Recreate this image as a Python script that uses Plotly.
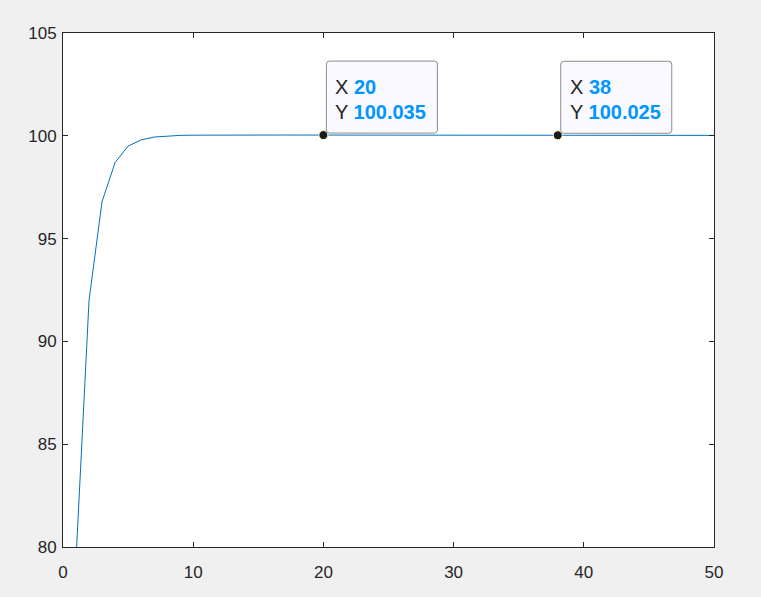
import plotly.graph_objects as go

x_vals = list(range(1, 51))
y_vals = [79.4, 92.0, 96.8, 98.7, 99.5, 99.8, 99.94, 99.99, 100.02, 100.03,
          100.036, 100.038, 100.039, 100.039, 100.039, 100.038, 100.038, 100.037, 100.036, 100.035,
          100.0344, 100.0339, 100.0333, 100.0328, 100.0322, 100.0317, 100.0311, 100.0306, 100.030, 100.0294,
          100.0289, 100.0283, 100.0278, 100.0272, 100.0267, 100.0261, 100.0256, 100.025, 100.0245, 100.024,
          100.0235, 100.023, 100.0226, 100.0222, 100.0218, 100.0214, 100.021, 100.0206, 100.0202, 100.0198]

tip_x = [20, 38]
tip_y = [100.035, 100.025]
tip_labels = ["100.035", "100.025"]

x_ticks = [0, 10, 20, 30, 40, 50]
y_ticks = [80, 85, 90, 95, 100, 105]

FONT = "Liberation Sans, Arial, Helvetica, sans-serif"
DARK = "#262626"
BLUE = "#0096ff"

fig = go.Figure()
fig.add_trace(go.Scatter(x=x_vals, y=y_vals, mode="lines",
                         line=dict(color="#0072BD", width=1), hoverinfo="skip"))

def rounded_rect(x0, y0, x1, y1, r):
    # pixel coords, y up
    return (f"M {x0+r},{y0} L {x1-r},{y0} Q {x1},{y0} {x1},{y0+r} "
            f"L {x1},{y1-r} Q {x1},{y1} {x1-r},{y1} L {x0+r},{y1} "
            f"Q {x0},{y1} {x0},{y1-r} L {x0},{y0+r} Q {x0},{y0} {x0+r},{y0} Z")

for tx, ty, lab in zip(tip_x, tip_y, tip_labels):
    fig.add_shape(type="path", xref="x", yref="y", xsizemode="pixel", ysizemode="pixel",
                  xanchor=tx, yanchor=ty, path=rounded_rect(3, 2, 114, 74, 3),
                  fillcolor="#f9f9ff", line=dict(color="#8c8c8c", width=1), layer="above")
    fig.add_annotation(x=tx, y=ty, xref="x", yref="y", showarrow=False,
                       xanchor="left", yanchor="middle", xshift=10, yshift=48,
                       text=f"X <span style='color:{BLUE}'><b>{tx}</b></span>",
                       font=dict(family=FONT, size=20, color=DARK))
    fig.add_annotation(x=tx, y=ty, xref="x", yref="y", showarrow=False,
                       xanchor="left", yanchor="middle", xshift=10, yshift=23,
                       text=f"Y <span style='color:{BLUE}'><b>{lab}</b></span>",
                       font=dict(family=FONT, size=20, color=DARK))

fig.add_trace(go.Scatter(x=tip_x, y=tip_y, mode="markers",
                         marker=dict(color="#1a1a1a", size=9, line=dict(color="#ffffc8", width=1)),
                         hoverinfo="skip"))

axis_common = dict(showline=True, linecolor=DARK, linewidth=1, mirror="ticks",
                   ticks="inside", ticklen=5, tickcolor=DARK, showgrid=False, zeroline=False,
                   tickfont=dict(family=FONT, size=17, color=DARK))

fig.update_layout(
    width=761, height=597,
    paper_bgcolor="#f0f0f0", plot_bgcolor="white",
    margin=dict(l=63, r=47, t=33, b=50),
    showlegend=False,
    xaxis=dict(range=[0, 50], tickvals=x_ticks, ticklabelstandoff=10, **axis_common),
    yaxis=dict(range=[80, 105], tickvals=y_ticks, ticklabelstandoff=2, **axis_common),
)

fig.write_html("out.html", config={"displayModeBar": False},
               post_script="document.body.style.margin='0';document.body.style.overflow='hidden';"
                           "document.body.style.background='#f0f0f0';")
